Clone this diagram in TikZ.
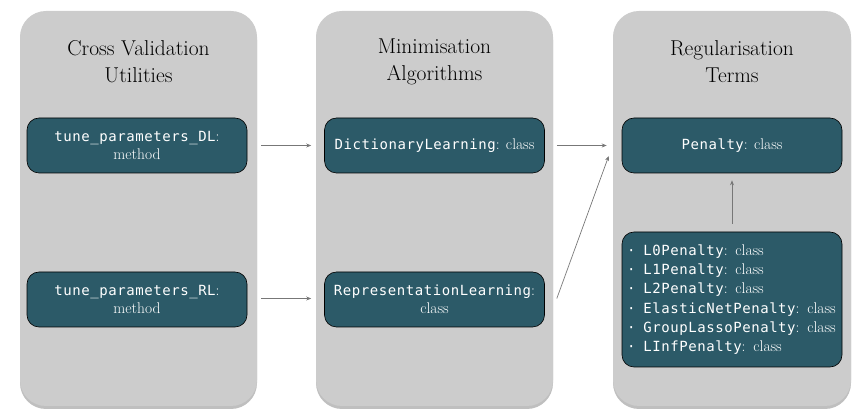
\documentclass[tikz,border=0pt]{standalone}
\usepackage{fontspec}
\setmonofont[LetterSpace=4]{DejaVu Sans Mono}
\usetikzlibrary{arrows.meta,calc,shadows}
\definecolor{panelgray}{HTML}{CCCCCC}
\definecolor{boxteal}{HTML}{2C5A68}
\definecolor{arrowgray}{HTML}{777777}
\tikzset{
  panel/.style={fill=panelgray, draw=none, rounded corners=26pt,
    drop shadow={shadow xshift=0pt, shadow yshift=-3pt, opacity=0.25, fill=black}},
  title/.style={align=center, font=\fontsize{21.5}{27}\selectfont, text=black},
  itembox/.style={draw=black, line width=0.6pt, fill=boxteal, rounded corners=12pt,
    minimum width=220pt, minimum height=55pt, text=white, align=center,
    font=\fontsize{15.5}{18}\selectfont, inner sep=3pt},
  conn/.style={draw=arrowgray, line width=0.7pt, -{Stealth[length=5pt,width=4pt]}}
}
\newcommand{\mc}[1]{{\ttfamily\fontsize{14}{18}\selectfont #1}}
\begin{document}
\begin{tikzpicture}[x=1pt,y=-1pt]
\useasboundingbox (0,0) rectangle (863,419);
% panels
\path[panel] (20,11) rectangle (257,406);
\path[panel] (316,11) rectangle (553,406);
\path[panel] (613,11) rectangle (851,406);
% titles
\node[title] (t1) at (138.5,62) {Cross Validation\\Utilities};
\node[title] (t2) at (434.5,62) {Minimisation\\Algorithms};
\node[title] (t3) at (732,62) {Regularisation\\Terms};
% boxes
\node[itembox] (dl) at (137,145.5) {\mc{tune\_parameters\_DL}:\\method};
\node[itembox] (rl) at (137,299.5) {\mc{tune\_parameters\_RL}:\\method};
\node[itembox] (dict) at (434.5,145.5) {\mc{DictionaryLearning}: class};
\node[itembox] (repr) at (434.5,299.5) {\mc{RepresentationLearning}:\\class};
\node[itembox] (pen) at (732,145.5) {\mc{Penalty}: class};
\node[itembox, minimum height=135pt, text width=210pt, inner xsep=5pt, align=left,
  font=\fontsize{15.5}{19.2}\selectfont] (list) at (732,299.5)
  {\mc{·}\hspace{8pt}\mc{L0Penalty}: class\\
   \mc{·}\hspace{8pt}\mc{L1Penalty}: class\\
   \mc{·}\hspace{8pt}\mc{L2Penalty}: class\\
   \mc{·}\hspace{8pt}\mc{ElasticNetPenalty}: class\\
   \mc{·}\hspace{8pt}\mc{GroupLassoPenalty}: class\\
   \mc{·}\hspace{8pt}\mc{LInfPenalty}: class};
% connectors
\draw[conn] ($(dl.east)+(14,0)$) -- ($(dict.west)+(-13,0)$);
\draw[conn] ($(rl.east)+(14,-1)$) -- ($(repr.west)+(-13,-1)$);
\draw[conn] ($(dict.east)+(12,0)$) -- ($(pen.west)+(-15,0)$);
\draw[conn] ($(repr.east)+(12,-1)$) -- ($(pen.west)+(-13,10.5)$);
\draw[conn] ($(list.north)+(0,-8)$) -- ($(pen.south)+(0,7)$);
\end{tikzpicture}
\end{document}
